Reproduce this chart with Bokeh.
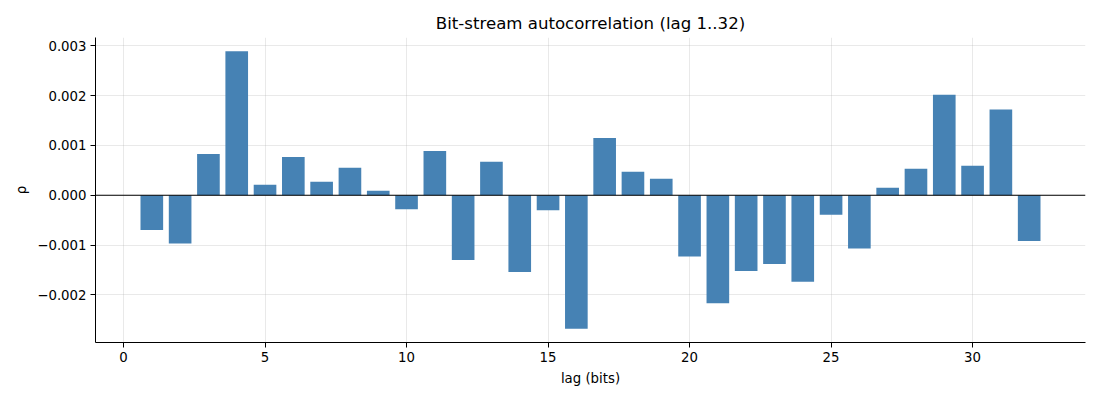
###
# Bar chart of bit-stream autocorrelation, lags 1..32
###
from bokeh.embed import file_html
from bokeh.models import ColumnDataSource, CustomJSTickFormatter, FixedTicker, Range1d, Span
from bokeh.plotting import figure
from bokeh.resources import INLINE

TITLE = "Bit-stream autocorrelation (lag 1..32)"
X_AXIS_LABEL = "lag (bits)"
Y_AXIS_LABEL = "ρ"
FONT = "DejaVu Sans"
BAR_COLOR = "#4682b4"

lags = list(range(1, 33))
rho = [
    -0.00070, -0.00097, 0.00083, 0.00289, 0.00021, 0.00077, 0.00027, 0.00055,
    0.00009, -0.00028, 0.00089, -0.00130, 0.00067, -0.00154, -0.00030, -0.00268,
    0.00115, 0.00047, 0.00033, -0.00123, -0.00217, -0.00152, -0.00138, -0.00174,
    -0.00039, -0.00107, 0.00015, 0.00053, 0.00202, 0.00059, 0.00172, -0.00092,
]
x_ticks = [0, 5, 10, 15, 20, 25, 30]
y_ticks = [-0.002, -0.001, 0.0, 0.001, 0.002, 0.003]


def build():
    # matplotlib-like 5% margins around the data
    x_lo, x_hi = min(lags) - 0.4, max(lags) + 0.4
    x_pad = (x_hi - x_lo) * 0.05
    y_lo, y_hi = min(rho), max(rho)
    y_pad = (y_hi - y_lo) * 0.05

    p = figure(
        width=1100, height=400, output_backend="svg", toolbar_location=None,
        x_range=Range1d(x_lo - x_pad, x_hi + x_pad),
        y_range=Range1d(y_lo - y_pad, y_hi + y_pad),
        min_border_left=95, min_border_right=15, min_border_top=37, min_border_bottom=58,
    )
    p.title.text = TITLE
    p.title.align = "center"
    p.title.text_font = FONT
    p.title.text_font_size = "16.6px"
    p.title.text_font_style = "normal"
    p.title.text_color = "black"
    p.outline_line_color = None

    source = ColumnDataSource(data={"lag": lags, "rho": rho})
    p.vbar(x="lag", top="rho", bottom=0, width=0.8, source=source, fill_color=BAR_COLOR, line_color=None)

    p.add_layout(Span(location=0, dimension="width", line_color="black", line_width=1.1))

    p.xaxis.axis_label = X_AXIS_LABEL
    p.yaxis.axis_label = Y_AXIS_LABEL
    p.xaxis.ticker = FixedTicker(ticks=x_ticks)
    p.yaxis.ticker = FixedTicker(ticks=y_ticks)
    p.yaxis.formatter = CustomJSTickFormatter(
        code="var s = tick.toFixed(3); if (s == '-0.000') s = '0.000'; return s.replace('-', '\u2212');"
    )
    for ax in p.axis:
        ax.axis_label_text_font = FONT
        ax.axis_label_text_font_size = "13.3px"
        ax.axis_label_text_font_style = "normal"
        ax.axis_label_text_color = "black"
        ax.major_label_text_font = FONT
        ax.major_label_text_font_size = "13.3px"
        ax.major_label_text_color = "black"
        ax.axis_line_color = "black"
        ax.axis_line_width = 1
        ax.major_tick_line_color = "black"
        ax.major_tick_in = 0
        ax.major_tick_out = 5
        ax.minor_tick_line_color = None
        ax.axis_label_standoff = 6
    p.yaxis.axis_label_standoff = 5
    p.yaxis.major_label_standoff = 4
    p.xaxis.major_label_standoff = 4

    p.grid.grid_line_color = "#b0b0b0"
    p.grid.grid_line_alpha = 0.35
    p.grid.grid_line_width = 0.8
    return p


if __name__ == '__main__':
    plot = build()
    open("out.html", "w").write(file_html(plot, INLINE))
